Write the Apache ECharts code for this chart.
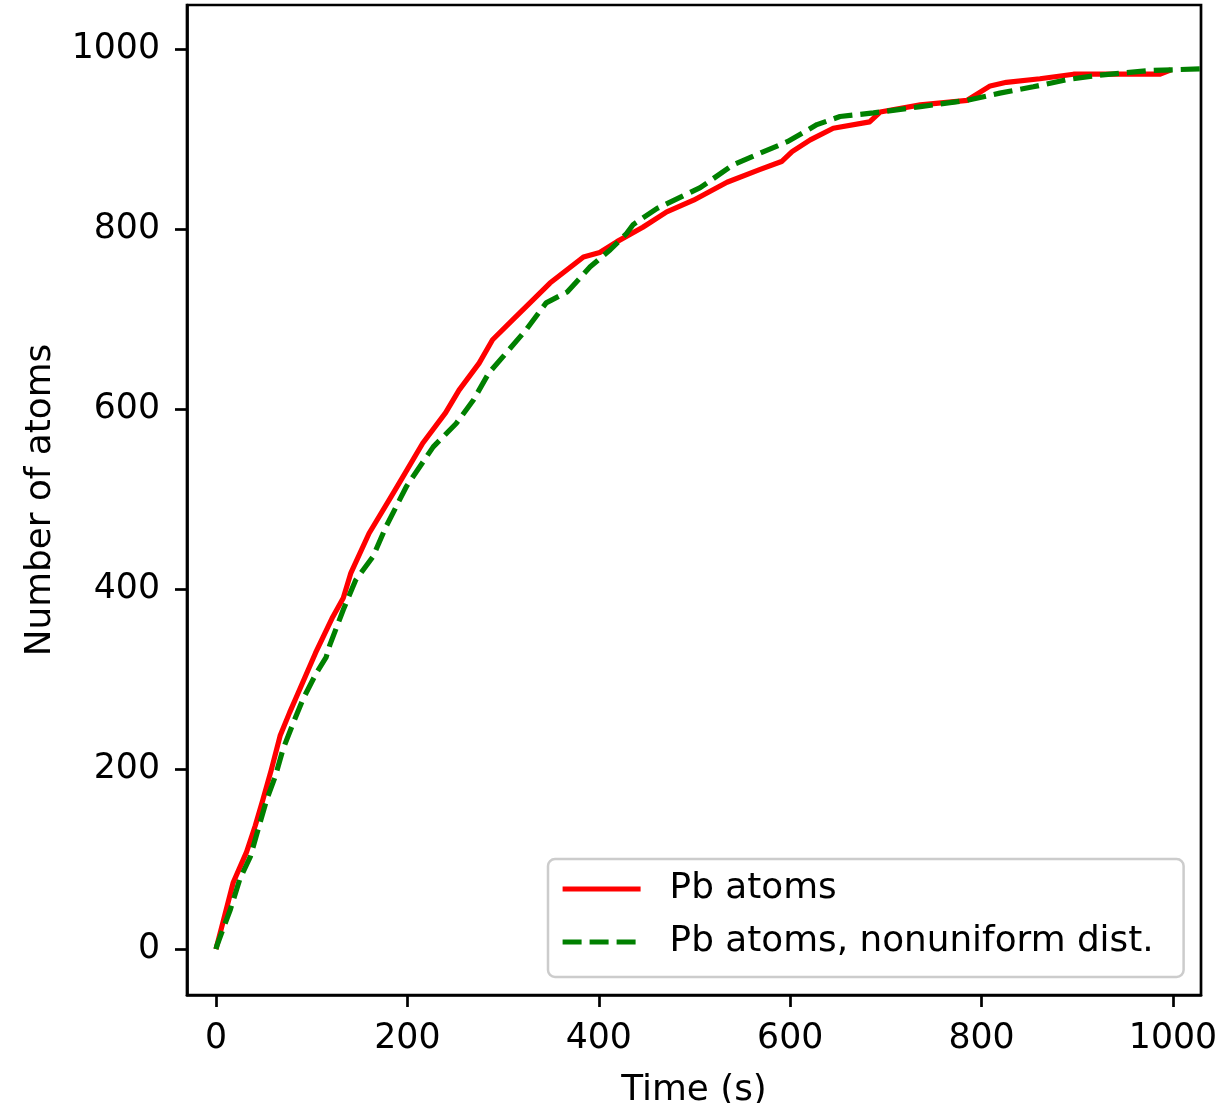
<!DOCTYPE html>
<html>
<head>
<meta charset="utf-8">
<script src="https://cdn.jsdelivr.net/npm/echarts@6/dist/echarts.min.js"></script>
<style>
html,body{margin:0;padding:0;background:#fff;}
#chart{width:1227px;height:1103px;}
</style>
</head>
<body>
<div id="chart"></div>
<script>
// Data
const seriesNames = ['Pb atoms', 'Pb atoms, nonuniform dist.'];
const xTicks = [0, 200, 400, 600, 800, 1000];
const yTicks = [0, 200, 400, 600, 800, 1000];

const redTime = [0, 9, 18, 32, 41, 49, 58, 67, 77, 84, 104, 122, 133, 141, 160, 181, 195, 216, 240, 254, 275, 289, 310, 331, 349, 384, 401, 419, 446, 471, 499, 534, 568, 591, 602, 621, 645, 683, 694, 736, 785, 809, 826, 861, 896, 986, 998];
const redAtoms = [0, 37, 74, 108, 137, 166, 200, 237, 263, 280, 329, 369, 390, 418, 462, 499, 524, 562, 596, 621, 651, 677, 699, 721, 740, 769, 774, 786, 802, 819, 832, 852, 866, 875, 886, 899, 912, 919, 930, 938, 943, 959, 963, 967, 972, 972, 977];

const greenTime = [0, 1, 15, 25, 36, 44, 53, 62, 70, 81, 91, 105, 115, 119, 133, 146, 164, 178, 199, 227, 251, 269, 285, 303, 324, 345, 367, 391, 412, 429, 436, 461, 506, 540, 568, 597, 628, 652, 687, 736, 785, 819, 854, 889, 923, 975, 1029];
const greenAtoms = [0, 4, 44, 78, 103, 133, 166, 192, 222, 252, 278, 307, 324, 338, 377, 410, 436, 470, 514, 558, 584, 610, 640, 662, 688, 718, 730, 758, 777, 795, 805, 823, 846, 871, 884, 897, 916, 925, 929, 936, 943, 951, 958, 966, 971, 976, 978];

const FONT = 'DejaVu Sans';
const FS = 34.7;
const FS_TEXT = 35.8;

const chart = echarts.init(document.getElementById('chart'), null, {renderer: 'canvas'});
const zip = (a, b) => a.map((v, i) => [v, b[i]]);
const plain = v => String(v);

chart.setOption({
  animation: false,
  backgroundColor: '#fff',
  textStyle: {fontFamily: FONT},
  grid: {
    left: 187, top: 5, width: 1014, height: 990,
    containLabel: false,
    outerBoundsMode: 'none',
    show: true, borderColor: '#000', borderWidth: 2.7, backgroundColor: 'transparent'
  },
  legend: {
    data: seriesNames,
    orient: 'vertical',
    left: 548, top: 859,
    itemWidth: 78, itemHeight: 14,
    itemGap: 17,
    padding: [12, 30, 17, 12],
    backgroundColor: '#fff',
    borderColor: '#cccccc',
    borderWidth: 2.5,
    borderRadius: 7,
    itemStyle: {opacity: 0},
    lineStyle: {width: 5.2},
    textStyle: {fontFamily: FONT, fontSize: FS_TEXT, color: '#000', padding: [0, 0, 0, 24]},
    selectedMode: false
  },
  xAxis: {
    type: 'value',
    min: -30.3, max: 1029.3,
    name: 'Time (s)',
    nameLocation: 'middle',
    nameGap: 78,
    nameTextStyle: {fontFamily: FONT, fontSize: FS_TEXT, color: '#000'},
    axisLine: {show: true, onZero: false, lineStyle: {color: '#000', width: 2.7}},
    axisTick: {show: true, inside: false, length: 12, lineStyle: {color: '#000', width: 2.7}, customValues: xTicks},
    axisLabel: {show: true, margin: 26, fontFamily: FONT, fontSize: FS, color: '#000', customValues: xTicks, formatter: plain},
    splitLine: {show: false}
  },
  yAxis: {
    type: 'value',
    min: -51, max: 1048.9,
    name: 'Number of atoms',
    nameLocation: 'middle',
    nameGap: 128,
    nameTextStyle: {fontFamily: FONT, fontSize: FS_TEXT, color: '#000'},
    axisLine: {show: true, onZero: false, lineStyle: {color: '#000', width: 2.7}},
    axisTick: {show: true, inside: false, length: 12, lineStyle: {color: '#000', width: 2.7}, customValues: yTicks},
    axisLabel: {show: true, margin: 27, fontFamily: FONT, fontSize: FS, color: '#000', customValues: yTicks, formatter: plain},
    splitLine: {show: false}
  },
  series: [
    {
      name: seriesNames[0],
      type: 'line',
      data: zip(redTime, redAtoms),
      showSymbol: false, symbol: 'none',
      lineStyle: {color: '#ff0000', width: 5.2, join: 'round', cap: 'butt'},
      itemStyle: {color: '#ff0000'},
      z: 3
    },
    {
      name: seriesNames[1],
      type: 'line',
      data: zip(greenTime, greenAtoms),
      showSymbol: false, symbol: 'none',
      lineStyle: {color: '#008000', width: 5.2, type: [19, 8], cap: 'butt'},
      itemStyle: {color: '#008000'},
      z: 4
    }
  ]
});
</script>
</body>
</html>
